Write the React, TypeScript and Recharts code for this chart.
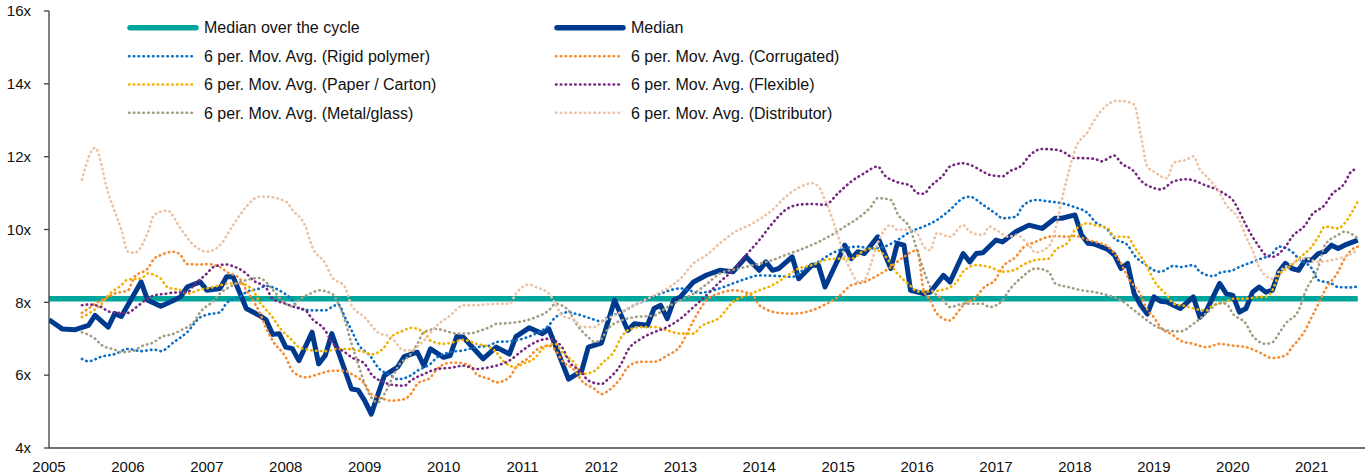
import React from 'react';
import { LineChart, Line, XAxis, YAxis, Legend } from 'recharts';

// ---------- data (month index from Jan 2005, value in x) ----------
const yearTicks = [2005, 2006, 2007, 2008, 2009, 2010, 2011, 2012, 2013, 2014, 2015, 2016, 2017, 2018, 2019, 2020, 2021];
const yTicks = [4, 6, 8, 10, 12, 14, 16];
const cycleMedianValue = 8.1;
const cycleMonths = [0, 199];

const median: [number, number][] = [
  [0,7.52],[2,7.27],[4,7.25],[6,7.37],[7,7.64],[9,7.32],[10,7.69],[11,7.61],[14,8.56],[15,8.06],[17,7.89],[19,8.06],[20,8.15],[21,8.42],[23,8.56],[24,8.33],[26,8.38],[27,8.70],[28,8.70],[30,7.83],[32,7.64],[33,7.52],[34,7.12],[35,7.14],[36,6.77],[37,6.73],[38,6.40],[40,7.18],[41,6.31],[42,6.54],[43,7.14],[46,5.62],[47,5.59],[48,5.30],[49,4.93],[51,5.99],[53,6.22],[54,6.51],[56,6.63],[57,6.26],[58,6.72],[60,6.49],[61,6.54],[62,7.06],[63,7.04],[66,6.45],[68,6.77],[70,6.58],[71,7.06],[73,7.30],[75,7.14],[76,7.27],[79,5.89],[81,6.12],[82,6.77],[84,6.88],[86,8.06],[88,7.23],[89,7.41],[91,7.37],[92,7.83],[93,7.92],[94,7.55],[95,8.06],[96,8.15],[98,8.56],[100,8.75],[102,8.88],[104,8.84],[106,9.25],[108,8.88],[109,9.11],[110,8.88],[111,8.93],[113,9.25],[114,8.65],[116,9.02],[117,9.02],[118,8.42],[121,9.57],[122,9.20],[123,9.39],[124,9.34],[126,9.80],[128,8.93],[129,9.62],[130,9.57],[131,8.33],[133,8.24],[134,8.28],[136,8.74],[137,8.56],[139,9.34],[140,9.11],[141,9.34],[142,9.36],[144,9.71],[145,9.66],[147,9.94],[149,10.12],[151,10.03],[153,10.31],[154,10.31],[156,10.40],[157,9.85],[158,9.62],[159,9.60],[161,9.45],[162,9.30],[163,8.93],[164,9.07],[165,8.24],[166,7.92],[167,7.68],[168,8.15],[169,8.03],[170,8.01],[172,7.83],[174,8.15],[175,7.59],[176,7.78],[178,8.52],[179,8.24],[180,8.19],[181,7.73],[182,7.83],[183,8.28],[184,8.42],[185,8.28],[186,8.33],[187,8.84],[188,9.07],[189,8.93],[190,8.88],[191,9.16],[192,9.16],[193,9.34],[194,9.39],[195,9.57],[196,9.48],[197,9.57],[199,9.71]
];

const rigidPolymer: [number, number][] = [
  [5,6.45],[6,6.38],[8,6.51],[10,6.58],[12,6.72],[14,6.66],[16,6.70],[17,6.66],[19,6.91],[21,7.18],[23,7.59],[24,7.66],[26,7.73],[27,7.98],[29,8.15],[30,8.28],[32,8.38],[33,8.45],[35,8.33],[37,8.06],[38,7.83],[40,7.78],[42,7.78],[43,7.87],[44,7.94],[45,7.59],[46,7.23],[47,6.86],[49,6.49],[50,6.22],[52,5.99],[53,5.89],[55,5.99],[56,6.12],[58,6.31],[59,6.49],[61,6.63],[63,6.68],[65,6.77],[67,6.81],[68,6.91],[70,6.93],[72,7.0],[74,7.14],[76,7.37],[77,7.59],[79,7.73],[80,7.69],[82,7.58],[84,7.48],[85,7.59],[87,7.73],[89,7.92],[91,8.08],[93,8.24],[96,8.38],[99,8.26],[101,8.33],[104,8.52],[106,8.65],[108,8.74],[111,8.72],[113,8.70],[115,8.93],[117,9.11],[119,9.34],[121,9.48],[123,9.53],[125,9.48],[127,9.53],[129,9.71],[131,9.94],[133,10.08],[135,10.26],[137,10.54],[139,10.86],[140,10.90],[142,10.68],[144,10.43],[145,10.31],[147,10.35],[148,10.63],[150,10.81],[152,10.77],[154,10.72],[156,10.61],[158,10.44],[159,10.22],[161,9.99],[162,9.76],[164,9.57],[165,9.30],[167,9.0],[168,8.88],[169,8.84],[171,9.0],[172,8.97],[174,9.02],[175,8.84],[177,8.72],[178,8.81],[180,8.88],[181,8.97],[183,9.11],[184,9.18],[186,9.34],[187,9.53],[189,9.39],[190,9.20],[192,8.93],[193,8.61],[195,8.52],[196,8.42],[198,8.41],[199,8.44]
];

const corrugated: [number, number][] = [
  [5,7.71],[6,7.83],[7,7.96],[9,8.15],[10,8.24],[12,8.33],[13,8.70],[15,8.93],[16,9.20],[17,9.30],[19,9.39],[20,9.30],[21,9.05],[23,9.04],[24,9.05],[26,8.97],[27,8.84],[29,8.65],[30,8.33],[31,8.06],[32,7.73],[33,7.30],[34,6.95],[36,6.49],[37,6.12],[39,5.94],[41,6.03],[43,6.12],[45,6.12],[46,6.03],[48,5.76],[49,5.48],[51,5.34],[52,5.30],[54,5.34],[55,5.48],[56,5.76],[58,5.94],[59,6.17],[61,6.34],[62,6.34],[64,6.26],[65,6.03],[67,5.89],[68,5.80],[70,5.94],[71,6.22],[73,6.49],[74,6.68],[76,6.81],[77,6.68],[78,6.40],[80,6.12],[81,5.85],[83,5.62],[84,5.48],[85,5.57],[87,5.94],[88,6.22],[90,6.37],[92,6.37],[94,6.54],[96,6.81],[97,7.14],[98,7.50],[100,8.06],[102,8.25],[104,8.33],[107,8.19],[108,7.92],[111,7.71],[113,7.69],[116,7.78],[118,7.94],[120,8.15],[122,8.47],[124,8.56],[126,8.74],[128,8.97],[130,9.25],[132,9.43],[133,8.33],[134,8.06],[135,7.69],[137,7.50],[138,7.69],[139,7.92],[141,8.15],[142,8.38],[144,8.65],[145,8.97],[147,9.25],[148,9.48],[150,9.66],[152,9.80],[153,9.82],[155,9.80],[156,9.82],[158,9.71],[159,9.66],[161,9.53],[162,9.34],[163,9.07],[164,8.70],[166,8.20],[167,7.80],[168,7.59],[169,7.32],[171,7.09],[172,6.95],[174,6.86],[176,6.77],[178,6.86],[180,6.81],[182,6.77],[184,6.63],[186,6.47],[188,6.54],[189,6.77],[191,7.23],[192,7.60],[193,7.95],[194,8.33],[196,8.84],[197,9.20],[198,9.43],[199,9.53]
];

const paperCarton: [number, number][] = [
  [5,7.59],[6,7.69],[8,7.96],[9,8.19],[11,8.47],[12,8.63],[14,8.65],[15,8.79],[17,8.65],[18,8.42],[20,8.33],[21,8.24],[23,8.35],[25,8.42],[26,8.47],[28,8.52],[29,8.52],[31,8.33],[32,8.01],[33,7.80],[34,7.59],[35,7.32],[37,6.95],[38,6.77],[40,6.68],[42,6.66],[44,6.72],[45,6.72],[47,6.68],[48,6.63],[49,6.57],[51,6.77],[52,7.04],[54,7.23],[55,7.30],[57,7.18],[58,6.95],[60,6.86],[62,6.93],[63,6.97],[65,6.86],[67,6.77],[68,6.63],[69,6.40],[71,6.22],[72,6.31],[74,6.49],[75,6.72],[77,6.86],[78,6.63],[80,6.31],[81,6.03],[83,6.12],[84,6.31],[86,6.68],[87,7.04],[88,7.23],[90,7.32],[92,7.32],[94,7.23],[96,7.14],[98,7.14],[99,7.32],[102,7.59],[104,8.01],[106,8.19],[108,8.33],[110,8.47],[112,8.70],[114,8.93],[116,9.02],[118,9.16],[120,9.20],[122,9.20],[124,9.43],[125,9.48],[127,9.30],[129,8.79],[131,8.45],[132,8.30],[134,8.30],[136,8.35],[138,8.56],[139,8.84],[141,9.02],[143,8.97],[145,8.84],[147,8.90],[148,9.02],[150,9.16],[152,9.20],[153,9.43],[155,9.66],[156,9.99],[158,10.17],[159,10.12],[161,10.03],[162,9.80],[164,9.80],[165,9.53],[167,8.97],[168,8.60],[170,8.19],[171,7.96],[173,7.89],[174,7.83],[176,7.78],[177,7.92],[179,8.01],[180,8.10],[182,8.10],[184,8.15],[185,8.15],[186,8.33],[187,8.74],[189,9.02],[190,9.20],[192,9.53],[193,9.80],[194,10.08],[196,10.03],[197,10.17],[198,10.44],[199,10.77]
];

const flexible: [number, number][] = [
  [5,7.92],[6,7.94],[8,7.87],[9,7.75],[11,7.71],[12,7.71],[13,7.83],[15,8.10],[16,8.19],[18,8.24],[19,8.27],[21,8.27],[22,8.47],[24,8.79],[25,8.97],[27,9.04],[28,8.99],[30,8.79],[31,8.61],[33,8.40],[34,8.10],[36,7.96],[37,7.89],[39,7.78],[40,7.55],[42,7.23],[43,6.91],[45,6.63],[46,6.49],[48,6.31],[49,6.03],[51,5.80],[52,5.74],[54,5.71],[55,5.85],[57,6.03],[59,6.17],[61,6.20],[63,6.26],[65,6.17],[67,6.22],[68,6.26],[70,6.40],[72,6.68],[74,6.91],[76,7.0],[78,6.77],[79,6.40],[81,6.08],[82,5.85],[84,5.76],[85,5.89],[87,6.31],[88,6.68],[90,7.0],[92,7.18],[94,7.32],[96,7.55],[98,7.87],[100,8.20],[102,8.56],[104,8.88],[106,9.30],[108,9.71],[110,10.17],[112,10.54],[114,10.68],[116,10.70],[118,10.68],[120,11.0],[122,11.32],[124,11.55],[126,11.73],[127,11.50],[129,11.30],[131,11.20],[132,11.0],[133,10.98],[134,11.18],[136,11.50],[137,11.73],[139,11.82],[140,11.78],[142,11.59],[143,11.50],[145,11.46],[146,11.59],[148,11.78],[149,12.01],[151,12.21],[153,12.19],[154,12.15],[156,11.96],[157,11.96],[159,11.94],[160,11.87],[162,12.03],[163,11.83],[165,11.59],[166,11.35],[168,11.14],[169,11.10],[171,11.32],[173,11.38],[174,11.35],[176,11.20],[177,11.14],[179,10.95],[180,10.81],[181,10.49],[182,10.12],[183,9.80],[184,9.53],[185,9.30],[186,9.25],[188,9.53],[189,9.80],[191,10.12],[192,10.40],[194,10.68],[195,10.95],[197,11.27],[198,11.59],[199,11.67]
];

const metalGlass: [number, number][] = [
  [5,7.18],[7,7.0],[8,6.83],[10,6.70],[11,6.63],[13,6.68],[14,6.79],[16,6.91],[17,7.04],[19,7.14],[20,7.23],[22,7.46],[23,7.73],[25,8.04],[26,8.24],[28,8.47],[30,8.61],[32,8.67],[33,8.56],[34,8.35],[36,7.96],[37,7.89],[38,8.06],[40,8.26],[41,8.33],[43,8.24],[44,7.96],[45,7.50],[46,6.86],[47,6.31],[48,5.76],[49,5.39],[50,5.25],[51,5.48],[52,5.85],[53,6.22],[55,6.58],[56,6.86],[57,7.18],[59,7.27],[60,7.23],[62,7.14],[64,7.15],[66,7.25],[67,7.32],[68,7.41],[70,7.43],[72,7.48],[74,7.59],[76,7.78],[77,7.96],[79,7.78],[80,7.46],[82,7.04],[83,6.91],[84,7.0],[85,7.27],[87,7.50],[89,7.59],[92,7.64],[94,7.87],[96,8.06],[98,8.24],[100,8.50],[102,8.79],[105,8.93],[107,9.02],[110,9.16],[112,9.30],[114,9.43],[117,9.66],[119,9.85],[121,10.08],[123,10.31],[125,10.63],[126,10.86],[128,10.81],[129,10.44],[131,9.99],[132,9.43],[133,8.88],[134,8.42],[136,8.06],[137,7.87],[139,7.96],[142,7.96],[143,7.87],[145,8.06],[146,8.33],[148,8.70],[150,8.93],[152,8.84],[153,8.52],[155,8.42],[157,8.33],[159,8.28],[161,8.19],[163,8.06],[165,7.78],[167,7.50],[168,7.37],[170,7.23],[172,7.20],[174,7.41],[176,7.70],[178,7.98],[179,7.96],[180,7.69],[182,7.41],[183,7.09],[185,6.86],[186,6.90],[187,7.14],[188,7.41],[190,7.78],[191,8.28],[193,8.97],[194,9.57],[196,9.85],[197,9.94],[199,9.76]
];

const distributor: [number, number][] = [
  [5,11.37],[7,12.24],[9,11.0],[11,9.99],[12,9.39],[13,9.36],[15,9.90],[16,10.40],[18,10.52],[20,10.03],[22,9.57],[24,9.39],[26,9.57],[28,10.12],[30,10.63],[32,10.90],[33,10.90],[36,10.77],[37,10.54],[39,10.08],[40,9.53],[42,9.07],[43,8.70],[45,8.42],[46,7.92],[48,7.59],[50,7.18],[52,7.04],[54,6.68],[55,6.68],[57,6.95],[59,7.37],[61,7.64],[63,7.92],[65,7.92],[68,7.96],[70,7.96],[71,8.24],[73,8.49],[74,8.42],[76,8.24],[77,7.96],[78,7.64],[80,7.50],[81,7.32],[83,7.32],[84,7.46],[86,7.64],[88,7.83],[90,8.01],[92,8.19],[94,8.38],[96,8.65],[98,9.07],[100,9.30],[102,9.62],[104,9.90],[107,10.17],[110,10.54],[112,10.90],[115,11.23],[116,11.27],[117,11.18],[118,10.81],[119,10.35],[120,9.80],[121,9.25],[122,8.84],[123,8.56],[124,8.61],[125,9.07],[126,9.62],[128,10.12],[129,9.99],[131,9.99],[132,9.90],[133,9.53],[134,9.43],[135,9.90],[137,9.80],[139,10.12],[140,9.94],[142,9.85],[143,10.08],[144,9.99],[146,9.80],[147,9.85],[149,9.57],[150,9.37],[152,9.53],[153,9.99],[154,10.81],[155,11.55],[156,12.19],[158,12.70],[159,13.02],[161,13.43],[162,13.53],[163,13.53],[165,13.43],[166,12.60],[167,11.73],[168,11.59],[170,11.41],[171,11.83],[173,11.92],[174,12.01],[175,11.64],[176,11.46],[178,11.0],[179,10.68],[181,10.26],[182,9.80],[183,9.43],[184,8.97],[186,8.65],[187,8.84],[189,9.07],[191,9.20],[193,9.11],[195,9.16],[197,9.25],[199,9.43]
];

// ---------- helpers ----------
const toPoints = (arr: [number, number][]) => arr.map(([m, v]) => ({ x: 2005 + m / 12, y: v }));
const cycleLine = cycleMonths.map((m) => ({ x: 2005 + m / 12, y: cycleMedianValue }));

const FONT = '"Liberation Sans", Arial, Helvetica, sans-serif';

type S = { name: string; data: [number, number][] | null; color: string; kind: 'thick' | 'median' | 'dot' };

const seriesList: S[] = [
  { name: 'Median over the cycle', data: null, color: '#00A59C', kind: 'thick' },
  { name: 'Median', data: median, color: '#003A8F', kind: 'median' },
  { name: '6 per. Mov. Avg. (Rigid polymer)', data: rigidPolymer, color: '#0A6FC6', kind: 'dot' },
  { name: '6 per. Mov. Avg. (Corrugated)', data: corrugated, color: '#F88B2E', kind: 'dot' },
  { name: '6 per. Mov. Avg. (Paper / Carton)', data: paperCarton, color: '#F2B000', kind: 'dot' },
  { name: '6 per. Mov. Avg. (Flexible)', data: flexible, color: '#74287F', kind: 'dot' },
  { name: '6 per. Mov. Avg. (Metal/glass)', data: metalGlass, color: '#A39D83', kind: 'dot' },
  { name: '6 per. Mov. Avg. (Distributor)', data: distributor, color: '#EBC2A3', kind: 'dot' },
];

const DOT_DASH = '0.5 4.3';
const DOT_W = 2.6;

const legendColX = [128, 555];
const legendRowY = [27.7, 56.3, 84.5, 112.8];

const renderLegend = () => (
  <svg width={1370} height={130} style={{ display: 'block' }}>
    {seriesList.map((s, i) => {
      const col = i % 2;
      const row = Math.floor(i / 2);
      const x0 = legendColX[col];
      const y = legendRowY[row];
      return (
        <g key={s.name}>
          {s.kind === 'dot' ? (
            <line x1={x0 + 1} x2={x0 + 66} y1={y} y2={y} stroke={s.color} strokeWidth={DOT_W} strokeDasharray={DOT_DASH} strokeLinecap="round" />
          ) : (
            <line x1={x0 + 2} x2={x0 + 68} y1={y} y2={y} stroke={s.color} strokeWidth={5.5} strokeLinecap="round" />
          )}
          <text x={x0 + 76} y={y} dy="0.36em" fontSize={16} fontFamily={FONT} fill="#111">{s.name}</text>
        </g>
      );
    })}
  </svg>
);

export default function App() {
  return (
    <div style={{ position: 'absolute', left: 0, top: 0, width: 1370, height: 476, background: '#fff' }}>
      <LineChart width={1370} height={476} margin={{ top: 11, right: 5, bottom: 0, left: 0 }}>
        <XAxis
          dataKey="x"
          type="number"
          domain={[2005, 2021.675]}
          ticks={yearTicks}
          interval={0}
          allowDataOverflow
          tickLine={false}
          tickSize={0}
          axisLine={{ stroke: '#404040', strokeWidth: 1.3 }}
          tick={{ fontSize: 15, fill: '#111', fontFamily: FONT }}
          tickMargin={13}
          height={28}
        />
        <YAxis
          dataKey="y"
          type="number"
          domain={[4, 16]}
          ticks={yTicks}
          interval={0}
          allowDataOverflow
          tickFormatter={(v: number) => `${v}x`}
          width={49}
          tickSize={5}
          tickMargin={13}
          tickLine={{ stroke: '#404040', strokeWidth: 1.3 }}
          axisLine={{ stroke: '#404040', strokeWidth: 1.3 }}
          tick={{ fontSize: 15, fill: '#111', fontFamily: FONT }}
        />
        <Legend layout="horizontal" verticalAlign="middle" align="center" wrapperStyle={{ top: 0, left: 0, width: 1370, height: 130 }} content={renderLegend} />
        <Line data={cycleLine} dataKey="y" type="linear" stroke="#00A59C" strokeWidth={5.5} dot={false} activeDot={false} isAnimationActive={false} />
        <Line data={toPoints(median)} dataKey="y" type="linear" stroke="#003A8F" strokeWidth={5} strokeLinejoin="round" dot={false} activeDot={false} isAnimationActive={false} />
        {seriesList.filter((s) => s.kind === 'dot').map((s) => (
          <Line
            key={s.name}
            data={toPoints(s.data as [number, number][])}
            dataKey="y"
            type="monotone"
            stroke={s.color}
            strokeWidth={DOT_W}
            strokeDasharray={DOT_DASH}
            strokeLinecap="round"
            dot={false}
            activeDot={false}
            isAnimationActive={false}
          />
        ))}
      </LineChart>
    </div>
  );
}
